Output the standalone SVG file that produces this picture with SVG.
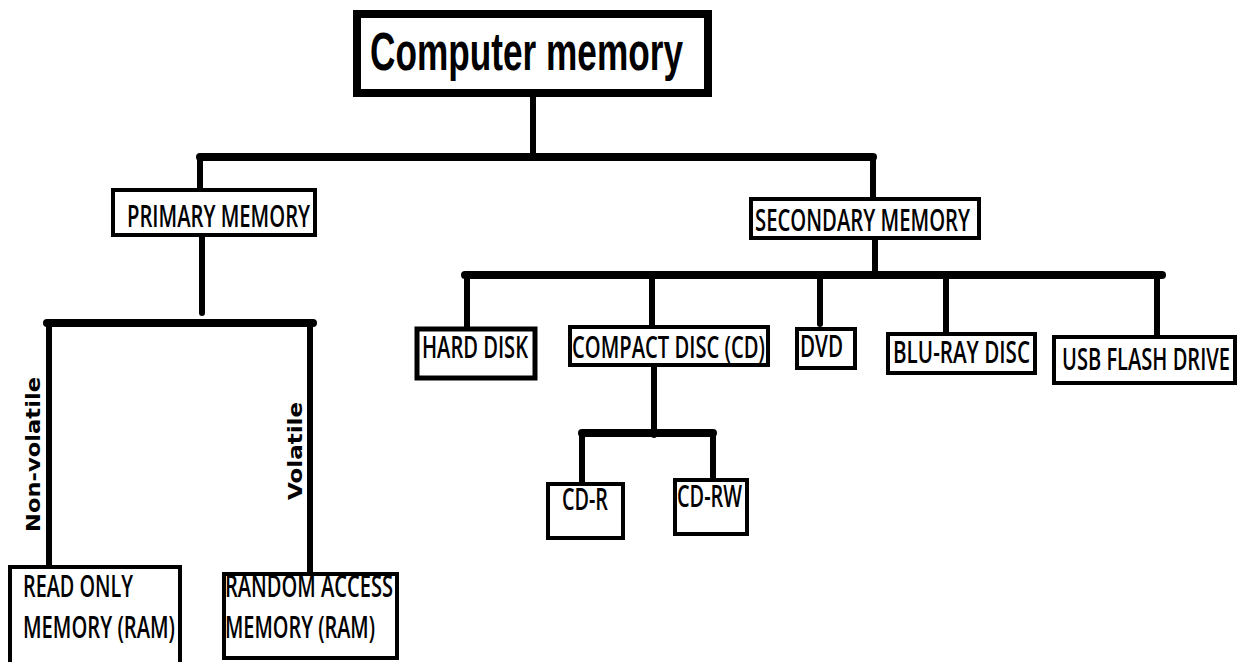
<svg xmlns="http://www.w3.org/2000/svg" width="1238" height="662" viewBox="0 0 1238 662">
<style>
.bg{fill:#fff}
.box{fill:#fff;stroke:#000;stroke-width:4}
.title{fill:#fff;stroke:#000;stroke-width:8}
.lbl{font-family:"Open Sans","DejaVu Sans",sans-serif;font-size:31px;font-weight:600;fill:#000}
.two{font-size:30px}
.ttl{font-family:"Liberation Sans",Arial,sans-serif;font-weight:bold;font-size:53px;fill:#000}
.edge{font-family:"DejaVu Sans","Open Sans",sans-serif;font-weight:bold;font-size:20px;fill:#000}
.c{stroke:#000;fill:none;stroke-linecap:round}
.t{stroke-width:8}
.m{stroke-width:6}
</style>
<rect class="bg" x="0" y="0" width="1238" height="662"/>
<g id="connectors">
<line class="c m" x1="533" y1="97" x2="533" y2="157"/>
<line class="c t" x1="200" y1="157" x2="873" y2="157"/>
<line class="c m" x1="200" y1="157" x2="200" y2="190"/>
<line class="c m" x1="873" y1="157" x2="873" y2="199"/>
<line class="c m" x1="202" y1="237" x2="202" y2="313"/>
<line class="c t" x1="47" y1="323" x2="313" y2="323"/>
<line class="c m" x1="49" y1="323" x2="49" y2="567"/>
<line class="c m" x1="310" y1="323" x2="310" y2="574"/>
<line class="c m" x1="875" y1="238" x2="875" y2="275"/>
<line class="c t" x1="465" y1="275" x2="1162" y2="275"/>
<line class="c m" x1="467" y1="275" x2="467" y2="329"/>
<line class="c m" x1="652" y1="275" x2="652" y2="327"/>
<line class="c m" x1="820" y1="275" x2="820" y2="324"/>
<line class="c m" x1="946" y1="275" x2="946" y2="334"/>
<line class="c m" x1="1157" y1="275" x2="1157" y2="337"/>
<line class="c m" x1="654" y1="365" x2="654" y2="435"/>
<line class="c t" x1="582" y1="433" x2="713" y2="433"/>
<line class="c m" x1="582" y1="433" x2="582" y2="484"/>
<line class="c m" x1="713" y1="433" x2="713" y2="480"/>
<text class="edge" transform="translate(40,532) rotate(-90)" textLength="155" lengthAdjust="spacingAndGlyphs">Non-volatile</text>
<text class="edge" transform="translate(302,500) rotate(-90)" textLength="98" lengthAdjust="spacingAndGlyphs">Volatile</text>
</g>
<g id="computer-memory">
<rect class="title" x="357" y="14" width="351" height="79"/>
<text class="ttl" transform="translate(370,70) scale(0.665,1)" textLength="470.7" lengthAdjust="spacingAndGlyphs">Computer memory</text>
</g>
<g id="primary-memory">
<rect class="box" x="113" y="190" width="202" height="45"/>
<text class="lbl" transform="translate(127,227) scale(0.63,1)" textLength="290.5" lengthAdjust="spacingAndGlyphs">PRIMARY MEMORY</text>
</g>
<g id="secondary-memory">
<rect class="box" x="751" y="199" width="228" height="39"/>
<text class="lbl" transform="translate(755,231) scale(0.63,1)" textLength="341.3" lengthAdjust="spacingAndGlyphs">SECONDARY MEMORY</text>
</g>
<g id="hard-disk">
<rect class="box" x="417" y="329" width="118" height="49" style="stroke-width:5"/>
<text class="lbl" transform="translate(422,358) scale(0.63,1)" textLength="168.3" lengthAdjust="spacingAndGlyphs">HARD DISK</text>
</g>
<g id="compact-disc">
<rect class="box" x="570" y="327" width="198" height="38"/>
<text class="lbl" transform="translate(572,358) scale(0.63,1)" textLength="306.3" lengthAdjust="spacingAndGlyphs">COMPACT DISC (CD)</text>
</g>
<g id="dvd">
<rect class="box" x="797" y="329" width="58" height="39"/>
<text class="lbl" transform="translate(800,357) scale(0.63,1)" textLength="68.3" lengthAdjust="spacingAndGlyphs">DVD</text>
</g>
<g id="blu-ray">
<rect class="box" x="888" y="334" width="147" height="39"/>
<text class="lbl" transform="translate(893,363) scale(0.63,1)" textLength="217.5" lengthAdjust="spacingAndGlyphs">BLU-RAY DISC</text>
</g>
<g id="usb-flash-drive">
<rect class="box" x="1054" y="337" width="181" height="46"/>
<text class="lbl" transform="translate(1062,370) scale(0.63,1)" textLength="266.7" lengthAdjust="spacingAndGlyphs">USB FLASH DRIVE</text>
</g>
<g id="cd-r">
<rect class="box" x="548" y="484" width="75" height="54"/>
<text class="lbl" transform="translate(562,510) scale(0.63,1)" textLength="73" lengthAdjust="spacingAndGlyphs">CD-R</text>
</g>
<g id="cd-rw">
<rect class="box" x="675" y="480" width="72" height="54"/>
<text class="lbl" transform="translate(677,507) scale(0.63,1)" textLength="103.2" lengthAdjust="spacingAndGlyphs">CD-RW</text>
</g>
<g id="rom">
<rect class="box" x="10" y="567" width="170" height="100"/>
<text class="lbl two" transform="translate(23,597) scale(0.63,1)" textLength="174.6" lengthAdjust="spacingAndGlyphs">READ ONLY</text>
<text class="lbl two" transform="translate(23,638) scale(0.63,1)" textLength="241.3" lengthAdjust="spacingAndGlyphs">MEMORY (RAM)</text>
</g>
<g id="ram">
<rect class="box" x="224" y="574" width="173" height="84"/>
<text class="lbl two" transform="translate(225,597) scale(0.63,1)" textLength="266.7" lengthAdjust="spacingAndGlyphs">RANDOM ACCESS</text>
<text class="lbl two" transform="translate(225,638) scale(0.63,1)" textLength="238.1" lengthAdjust="spacingAndGlyphs">MEMORY (RAM)</text>
</g>
</svg>
